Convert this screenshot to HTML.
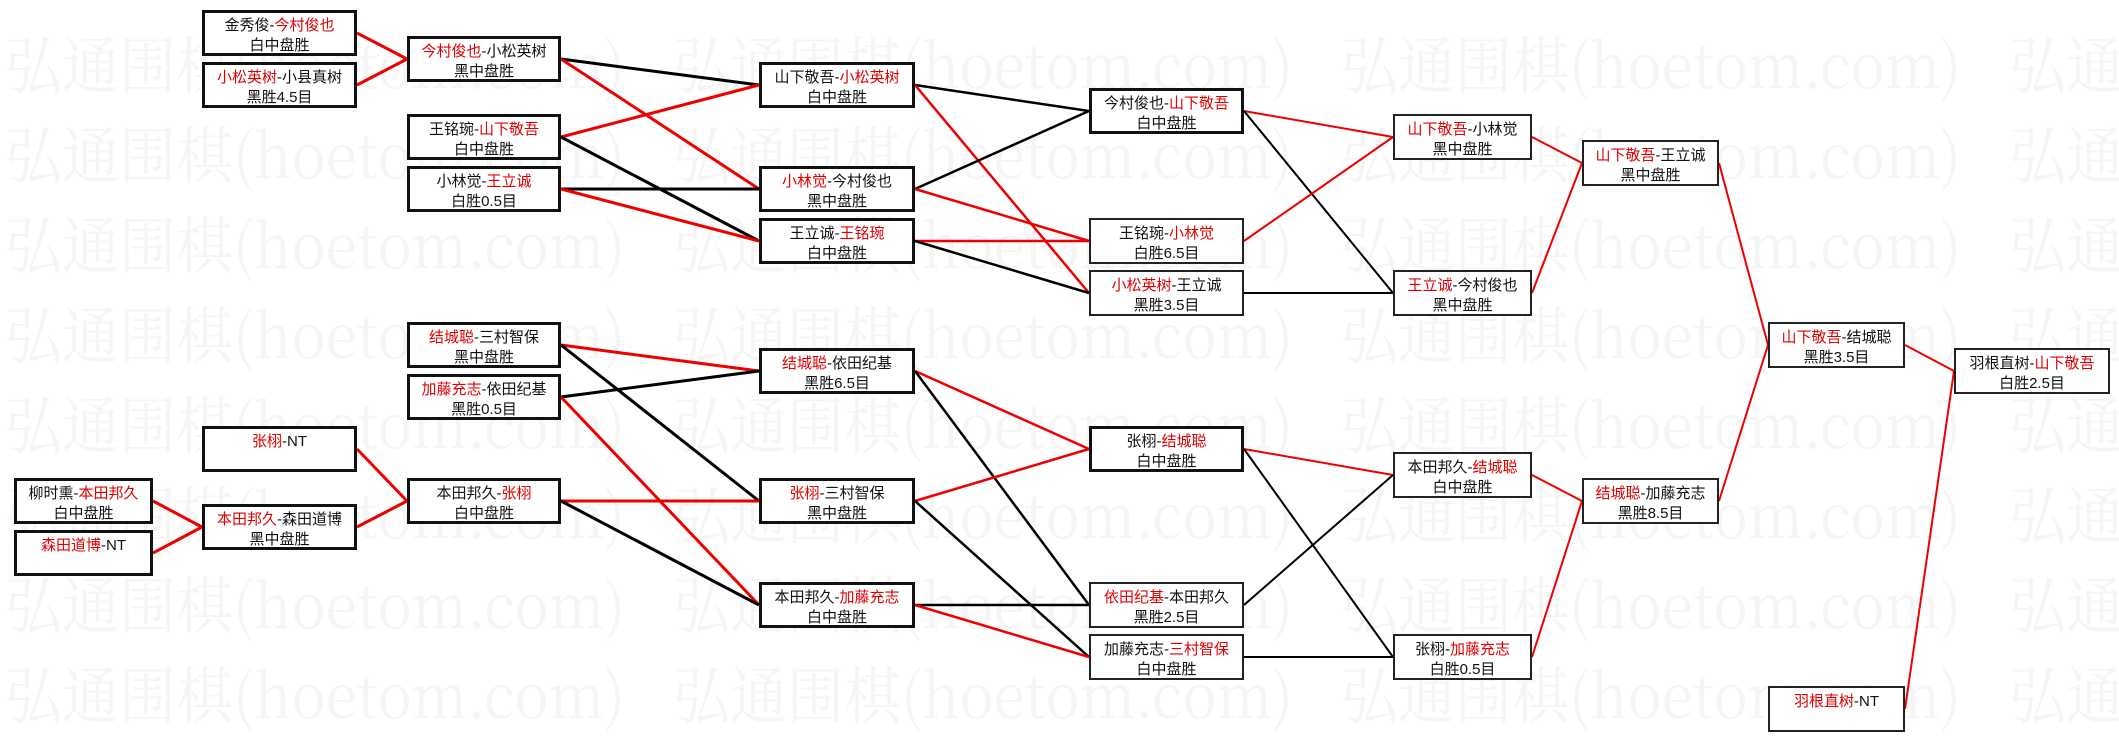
<!DOCTYPE html>
<html><head><meta charset="utf-8"><style>
html,body{margin:0;padding:0;background:#fff;}
body{width:2119px;height:741px;position:relative;overflow:hidden;font-family:"Liberation Sans","Noto Sans CJK SC","WenQuanYi Zen Hei",sans-serif;}
.b{position:absolute;box-sizing:border-box;border:3px solid #111;background:#fff;text-align:center;font-size:15px;line-height:20px;color:#111;padding-top:3px;}
.t{border-width:2px;border-color:#222;padding-top:4px;}
.r{color:#e00000;}
svg{position:absolute;left:0;top:0;}
</style></head><body>
<svg width="2119" height="741">
<defs>
<text id="w" font-size="62" font-family="'Noto Serif CJK SC','Liberation Serif',serif" textLength="620" lengthAdjust="spacingAndGlyphs">弘通围棋(hoetom.com)</text>
</defs>
<g fill="#f5f5f5">
<use href="#w" x="5" y="88"/><use href="#w" x="673" y="88"/><use href="#w" x="1341" y="88"/><use href="#w" x="2009" y="88"/>
<use href="#w" x="5" y="178"/><use href="#w" x="673" y="178"/><use href="#w" x="1341" y="178"/><use href="#w" x="2009" y="178"/>
<use href="#w" x="5" y="268"/><use href="#w" x="673" y="268"/><use href="#w" x="1341" y="268"/><use href="#w" x="2009" y="268"/>
<use href="#w" x="5" y="358"/><use href="#w" x="673" y="358"/><use href="#w" x="1341" y="358"/><use href="#w" x="2009" y="358"/>
<use href="#w" x="5" y="448"/><use href="#w" x="673" y="448"/><use href="#w" x="1341" y="448"/><use href="#w" x="2009" y="448"/>
<use href="#w" x="5" y="538"/><use href="#w" x="673" y="538"/><use href="#w" x="1341" y="538"/><use href="#w" x="2009" y="538"/>
<use href="#w" x="5" y="628"/><use href="#w" x="673" y="628"/><use href="#w" x="1341" y="628"/><use href="#w" x="2009" y="628"/>
<use href="#w" x="5" y="718"/><use href="#w" x="673" y="718"/><use href="#w" x="1341" y="718"/><use href="#w" x="2009" y="718"/>
</g>
<g stroke-width="3">
<line x1="153" y1="501" x2="202" y2="527" stroke="#e00"/>
<line x1="153" y1="553" x2="202" y2="527" stroke="#e00"/>
<line x1="357" y1="33" x2="407" y2="59" stroke="#e00"/>
<line x1="357" y1="85" x2="407" y2="59" stroke="#e00"/>
<line x1="357" y1="449" x2="407" y2="501" stroke="#e00"/>
<line x1="357" y1="527" x2="407" y2="501" stroke="#e00"/>
<line x1="561" y1="59" x2="759" y2="85" stroke="#000"/>
<line x1="561" y1="59" x2="759" y2="189" stroke="#e00"/>
<line x1="561" y1="137" x2="759" y2="85" stroke="#e00"/>
<line x1="561" y1="137" x2="759" y2="241" stroke="#000"/>
<line x1="561" y1="189" x2="759" y2="189" stroke="#000"/>
<line x1="561" y1="189" x2="759" y2="241" stroke="#e00"/>
<line x1="561" y1="345" x2="759" y2="371" stroke="#e00"/>
<line x1="561" y1="345" x2="759" y2="501" stroke="#000"/>
<line x1="561" y1="397" x2="759" y2="371" stroke="#000"/>
<line x1="561" y1="397" x2="759" y2="605" stroke="#e00"/>
<line x1="561" y1="501" x2="759" y2="501" stroke="#e00"/>
<line x1="561" y1="501" x2="759" y2="605" stroke="#000"/>
</g>
<g stroke-width="2.5">
<line x1="915" y1="85" x2="1089" y2="111" stroke="#000"/>
<line x1="915" y1="85" x2="1089" y2="293" stroke="#e00"/>
<line x1="915" y1="189" x2="1089" y2="111" stroke="#000"/>
<line x1="915" y1="189" x2="1089" y2="241" stroke="#e00"/>
<line x1="915" y1="241" x2="1089" y2="241" stroke="#e00"/>
<line x1="915" y1="241" x2="1089" y2="293" stroke="#000"/>
<line x1="915" y1="371" x2="1089" y2="449" stroke="#e00"/>
<line x1="915" y1="371" x2="1089" y2="605" stroke="#000"/>
<line x1="915" y1="501" x2="1089" y2="449" stroke="#e00"/>
<line x1="915" y1="501" x2="1089" y2="657" stroke="#000"/>
<line x1="915" y1="605" x2="1089" y2="605" stroke="#000"/>
<line x1="915" y1="605" x2="1089" y2="657" stroke="#e00"/>
</g>
<g stroke-width="2">
<line x1="1244" y1="111" x2="1393" y2="137" stroke="#e00"/>
<line x1="1244" y1="111" x2="1393" y2="293" stroke="#000"/>
<line x1="1244" y1="241" x2="1393" y2="137" stroke="#e00"/>
<line x1="1244" y1="293" x2="1393" y2="293" stroke="#000"/>
<line x1="1244" y1="449" x2="1393" y2="475" stroke="#e00"/>
<line x1="1244" y1="449" x2="1393" y2="657" stroke="#000"/>
<line x1="1244" y1="605" x2="1393" y2="475" stroke="#000"/>
<line x1="1244" y1="657" x2="1393" y2="657" stroke="#000"/>
<line x1="1532" y1="137" x2="1582" y2="163" stroke="#e00"/>
<line x1="1532" y1="293" x2="1582" y2="163" stroke="#e00"/>
<line x1="1532" y1="475" x2="1582" y2="501" stroke="#e00"/>
<line x1="1532" y1="657" x2="1582" y2="501" stroke="#e00"/>
<line x1="1719" y1="163" x2="1768" y2="345" stroke="#e00"/>
<line x1="1719" y1="501" x2="1768" y2="345" stroke="#e00"/>
<line x1="1905" y1="345" x2="1954" y2="371" stroke="#e00"/>
<line x1="1905" y1="709" x2="1954" y2="371" stroke="#e00"/>
</g>
</svg>

<div class="b" style="left:14px;top:478px;width:139px;height:46px">柳时熏-<span class="r">本田邦久</span><br>白中盘胜</div>
<div class="b" style="left:14px;top:530px;width:139px;height:46px"><span class="r">森田道博</span>-NT</div>

<div class="b" style="left:202px;top:10px;width:155px;height:46px">金秀俊-<span class="r">今村俊也</span><br>白中盘胜</div>
<div class="b" style="left:202px;top:62px;width:155px;height:46px"><span class="r">小松英树</span>-小县真树<br>黑胜4.5目</div>
<div class="b" style="left:202px;top:426px;width:155px;height:46px"><span class="r">张栩</span>-NT</div>
<div class="b" style="left:202px;top:504px;width:155px;height:46px"><span class="r">本田邦久</span>-森田道博<br>黑中盘胜</div>

<div class="b" style="left:407px;top:36px;width:154px;height:46px"><span class="r">今村俊也</span>-小松英树<br>黑中盘胜</div>
<div class="b" style="left:407px;top:114px;width:154px;height:46px">王铭琬-<span class="r">山下敬吾</span><br>白中盘胜</div>
<div class="b" style="left:407px;top:166px;width:154px;height:46px">小林觉-<span class="r">王立诚</span><br>白胜0.5目</div>
<div class="b" style="left:407px;top:322px;width:154px;height:46px"><span class="r">结城聪</span>-三村智保<br>黑中盘胜</div>
<div class="b" style="left:407px;top:374px;width:154px;height:46px"><span class="r">加藤充志</span>-依田纪基<br>黑胜0.5目</div>
<div class="b" style="left:407px;top:478px;width:154px;height:46px">本田邦久-<span class="r">张栩</span><br>白中盘胜</div>

<div class="b" style="left:759px;top:62px;width:156px;height:46px">山下敬吾-<span class="r">小松英树</span><br>白中盘胜</div>
<div class="b" style="left:759px;top:166px;width:156px;height:46px"><span class="r">小林觉</span>-今村俊也<br>黑中盘胜</div>
<div class="b" style="left:759px;top:218px;width:156px;height:46px">王立诚-<span class="r">王铭琬</span><br>白中盘胜</div>
<div class="b" style="left:759px;top:348px;width:156px;height:46px"><span class="r">结城聪</span>-依田纪基<br>黑胜6.5目</div>
<div class="b" style="left:759px;top:478px;width:156px;height:46px"><span class="r">张栩</span>-三村智保<br>黑中盘胜</div>
<div class="b" style="left:759px;top:582px;width:156px;height:46px">本田邦久-<span class="r">加藤充志</span><br>白中盘胜</div>

<div class="b" style="left:1089px;top:88px;width:155px;height:46px">今村俊也-<span class="r">山下敬吾</span><br>白中盘胜</div>
<div class="b t" style="left:1089px;top:218px;width:155px;height:46px">王铭琬-<span class="r">小林觉</span><br>白胜6.5目</div>
<div class="b t" style="left:1089px;top:270px;width:155px;height:46px"><span class="r">小松英树</span>-王立诚<br>黑胜3.5目</div>
<div class="b" style="left:1089px;top:426px;width:155px;height:46px">张栩-<span class="r">结城聪</span><br>白中盘胜</div>
<div class="b t" style="left:1089px;top:582px;width:155px;height:46px"><span class="r">依田纪基</span>-本田邦久<br>黑胜2.5目</div>
<div class="b t" style="left:1089px;top:634px;width:155px;height:46px">加藤充志-<span class="r">三村智保</span><br>白中盘胜</div>

<div class="b t" style="left:1393px;top:114px;width:139px;height:46px"><span class="r">山下敬吾</span>-小林觉<br>黑中盘胜</div>
<div class="b t" style="left:1393px;top:270px;width:139px;height:46px"><span class="r">王立诚</span>-今村俊也<br>黑中盘胜</div>
<div class="b t" style="left:1393px;top:452px;width:139px;height:46px">本田邦久-<span class="r">结城聪</span><br>白中盘胜</div>
<div class="b t" style="left:1393px;top:634px;width:139px;height:46px">张栩-<span class="r">加藤充志</span><br>白胜0.5目</div>

<div class="b t" style="left:1582px;top:140px;width:137px;height:46px"><span class="r">山下敬吾</span>-王立诚<br>黑中盘胜</div>
<div class="b t" style="left:1582px;top:478px;width:137px;height:46px"><span class="r">结城聪</span>-加藤充志<br>黑胜8.5目</div>

<div class="b t" style="left:1768px;top:322px;width:137px;height:46px"><span class="r">山下敬吾</span>-结城聪<br>黑胜3.5目</div>
<div class="b t" style="left:1768px;top:686px;width:137px;height:46px"><span class="r">羽根直树</span>-NT</div>

<div class="b t" style="left:1954px;top:348px;width:156px;height:46px">羽根直树-<span class="r">山下敬吾</span><br>白胜2.5目</div>
</body></html>
